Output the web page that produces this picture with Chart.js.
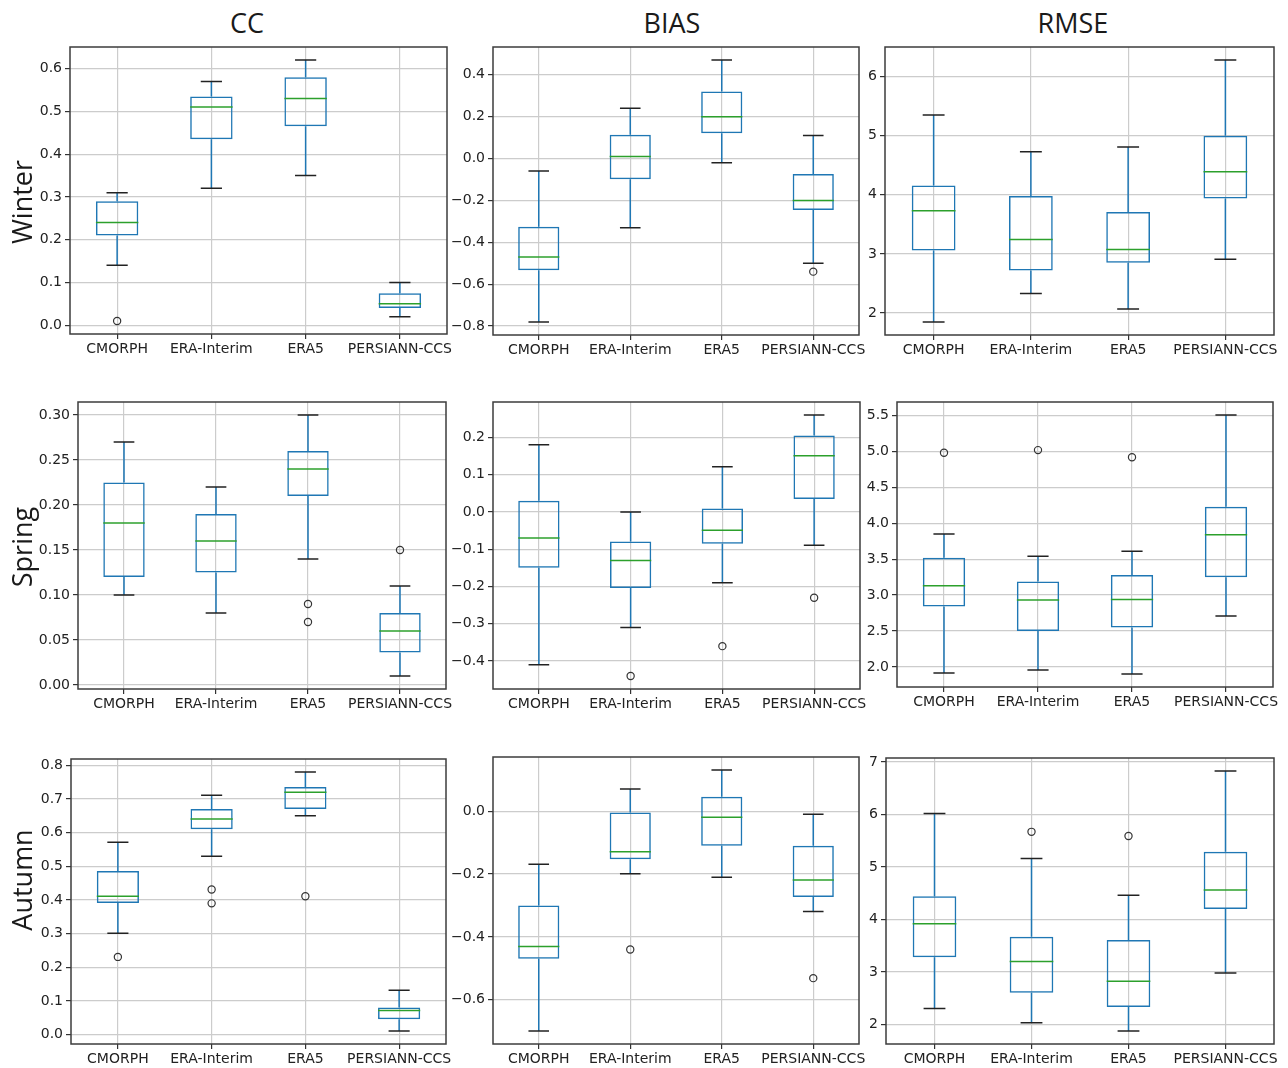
<!DOCTYPE html>
<html>
<head>
<meta charset="utf-8">
<script src="https://cdn.jsdelivr.net/npm/chart.js@4.4.1/dist/chart.umd.min.js"></script>
<style>
	body { margin: 0; background: #fff; width: 1288px; height: 1068px; position: relative; overflow: hidden; }
	canvas { position: absolute; }
	.title { position: absolute; font-family: "Open Sans", sans-serif; font-size: 27px; color: #1a1a1a; transform: translate(-50%, -50%); white-space: nowrap; }
	.rowlab { position: absolute; font-family: "Open Sans", sans-serif; font-size: 27px; color: #1a1a1a; transform: translate(-50%, -50%) rotate(-90deg); white-space: nowrap; z-index: 2; }
</style>
</head>
<body>
<div class="title" style="left:247px;top:22px">CC</div>
<div class="title" style="left:672px;top:22px">BIAS</div>
<div class="title" style="left:1073px;top:22px">RMSE</div>
<div class="rowlab" style="left:21px;top:202px">Winter</div>
<div class="rowlab" style="left:21px;top:547px">Spring</div>
<div class="rowlab" style="left:21px;top:880px">Autumn</div>
<script>
let products = ['CMORPH', 'ERA-Interim', 'ERA5', 'PERSIANN-CCS'];

// each entry: [lower whisker, Q1, median, Q3, upper whisker]
let winterCC = [[0.14, 0.21, 0.24, 0.29, 0.31], [0.32, 0.435, 0.51, 0.535, 0.57], [0.35, 0.465, 0.53, 0.58, 0.62], [0.02, 0.04, 0.05, 0.075, 0.10]];
let winterCCOut = [[0.01], [], [], []];
let winterBIAS = [[-0.78, -0.533, -0.47, -0.326, -0.06], [-0.33, -0.099, 0.01, 0.114, 0.24], [-0.02, 0.121, 0.20, 0.32, 0.47], [-0.50, -0.246, -0.20, -0.074, 0.11]];
let winterBIASOut = [[], [], [], [-0.54]];
let winterRMSE = [[1.85, 3.06, 3.73, 4.16, 5.35], [2.33, 2.72, 3.245, 3.98, 4.73], [2.07, 2.85, 3.076, 3.71, 4.81], [2.91, 3.94, 4.39, 5.0, 6.28]];
let winterRMSEOut = [[], [], [], []];

let springCC = [[0.10, 0.12, 0.18, 0.225, 0.27], [0.08, 0.125, 0.16, 0.19, 0.22], [0.14, 0.21, 0.24, 0.26, 0.30], [0.01, 0.036, 0.06, 0.08, 0.11]];
let springCCOut = [[], [], [0.09, 0.07], [0.15]];
let springBIAS = [[-0.41, -0.15, -0.07, 0.03, 0.18], [-0.31, -0.204, -0.13, -0.079, 0.0], [-0.19, -0.085, -0.049, 0.009, 0.121], [-0.089, 0.035, 0.151, 0.205, 0.26]];
let springBIASOut = [[], [-0.44], [-0.36], [-0.23]];
let springRMSE = [[1.916, 2.84, 3.13, 3.52, 3.85], [1.958, 2.50, 2.93, 3.19, 3.54], [1.90, 2.55, 2.94, 3.28, 3.61], [2.71, 3.25, 3.84, 4.23, 5.51]];
let springRMSEOut = [[4.984], [5.02], [4.92], []];

let autumnCC = [[0.301, 0.391, 0.411, 0.486, 0.571], [0.53, 0.61, 0.64, 0.67, 0.711], [0.65, 0.67, 0.72, 0.735, 0.78], [0.011, 0.046, 0.072, 0.081, 0.132]];
let autumnCCOut = [[0.231], [0.431, 0.39], [0.411], []];
let autumnBIAS = [[-0.699, -0.469, -0.43, -0.30, -0.169], [-0.199, -0.153, -0.129, -0.004, 0.071], [-0.21, -0.11, -0.019, 0.046, 0.131], [-0.319, -0.273, -0.219, -0.11, -0.0096]];
let autumnBIASOut = [[], [-0.44], [], [-0.531]];
let autumnRMSE = [[2.30, 3.28, 3.92, 4.44, 6.02], [2.03, 2.60, 3.20, 3.67, 5.16], [1.873, 2.33, 2.82, 3.61, 4.46], [2.98, 4.20, 4.56, 5.29, 6.83]];
let autumnRMSEOut = [[], [5.67], [5.59], []];

// tick step per row
let ccSteps = [0.1, 0.05, 0.1];
let biasSteps = [0.2, 0.1, 0.2];
let rmseSteps = [1, 0.5, 1];

const YW = 60, XH = 30, PT = 4, PR = 14;

// plot area boxes [left, top, right, bottom]
let panels = [
	{ stats: winterCC, out: winterCCOut, step: ccSteps[0], dec: 1, box: [70, 47, 447, 334] },
	{ stats: winterBIAS, out: winterBIASOut, step: biasSteps[0], dec: 1, box: [493, 47, 859, 335] },
	{ stats: winterRMSE, out: winterRMSEOut, step: rmseSteps[0], dec: 0, box: [885, 47, 1274, 335] },
	{ stats: springCC, out: springCCOut, step: ccSteps[1], dec: 2, box: [78, 402, 446, 689] },
	{ stats: springBIAS, out: springBIASOut, step: biasSteps[1], dec: 1, box: [493, 402, 860, 689] },
	{ stats: springRMSE, out: springRMSEOut, step: rmseSteps[1], dec: 1, box: [897, 402, 1273, 687] },
	{ stats: autumnCC, out: autumnCCOut, step: ccSteps[2], dec: 1, box: [71, 759, 446, 1044] },
	{ stats: autumnBIAS, out: autumnBIASOut, step: biasSteps[2], dec: 1, box: [493, 757, 859, 1044] },
	{ stats: autumnRMSE, out: autumnRMSEOut, step: rmseSteps[2], dec: 0, box: [886, 758, 1274, 1044] }
];

// whiskers, caps, medians and fliers drawn through the chart scales
const boxPlugin = {
	id: 'boxExtras',
	afterDatasetsDraw(chart, args, opts) {
		let ctx = chart.ctx;
		let xs = chart.scales.x, ys = chart.scales.y;
		let meta = chart.getDatasetMeta(0);
		ctx.save();
		opts.stats.forEach(function(s, i) {
			let x = xs.getPixelForValue(i);
			let half = meta.data[i].width / 2;
			let yLo = ys.getPixelForValue(s[0]), yQ1 = ys.getPixelForValue(s[1]);
			let yMed = ys.getPixelForValue(s[2]), yQ3 = ys.getPixelForValue(s[3]);
			let yHi = ys.getPixelForValue(s[4]);
			// whiskers
			ctx.strokeStyle = '#1f77b4';
			ctx.lineWidth = 1.5;
			ctx.beginPath();
			ctx.moveTo(x, yQ1); ctx.lineTo(x, yLo);
			ctx.moveTo(x, yQ3); ctx.lineTo(x, yHi);
			ctx.stroke();
			// caps
			ctx.strokeStyle = '#222';
			ctx.beginPath();
			ctx.moveTo(x - half / 2, yLo); ctx.lineTo(x + half / 2, yLo);
			ctx.moveTo(x - half / 2, yHi); ctx.lineTo(x + half / 2, yHi);
			ctx.stroke();
			// median
			ctx.strokeStyle = '#2ca02c';
			ctx.beginPath();
			ctx.moveTo(x - half, yMed); ctx.lineTo(x + half, yMed);
			ctx.stroke();
			// fliers
			ctx.strokeStyle = '#333';
			ctx.lineWidth = 1.2;
			opts.out[i].forEach(function(v) {
				ctx.beginPath();
				ctx.arc(x, ys.getPixelForValue(v), 3.6, 0, Math.PI * 2);
				ctx.stroke();
			});
		});
		ctx.restore();
	},
	afterDraw(chart) {
		let a = chart.chartArea, ctx = chart.ctx;
		ctx.save();
		ctx.strokeStyle = '#3c3c3c';
		ctx.lineWidth = 1.5;
		ctx.strokeRect(a.left, a.top, a.right - a.left, a.bottom - a.top);
		ctx.restore();
	}
};

function fmt(v, dec) {
	if (Math.abs(v) < 1e-9) v = 0;
	return v.toFixed(dec).replace('-', '\u2212');
}

// pin the axis sizes so the plot area lands on the box
function pinScale(s, key, size) {
	s[key] = size;
	s.paddingTop = 0; s.paddingBottom = 0;
	s.paddingLeft = 0; s.paddingRight = 0;
}

function drawPanel(p) {
	let all = [];
	p.stats.forEach(function(s, i) { all = all.concat(s, p.out[i]); });
	let lo = Math.min.apply(null, all), hi = Math.max.apply(null, all);
	let pad = (hi - lo) * 0.05;

	let w = p.box[2] - p.box[0], h = p.box[3] - p.box[1];
	let cv = document.createElement('canvas');
	cv.width = w + YW + PR;
	cv.height = h + PT + XH;
	cv.style.left = (p.box[0] - YW) + 'px';
	cv.style.top = (p.box[1] - PT) + 'px';
	cv.style.width = cv.width + 'px';
	cv.style.height = cv.height + 'px';
	document.body.appendChild(cv);

	let gridOpts = { color: '#cccccc', lineWidth: 1.2, tickColor: '#333', tickLength: 5, drawTicks: true };
	let tickFont = { family: 'DejaVu Sans', size: 14 };

	new Chart(cv, {
		type: 'bar',
		data: {
			labels: products,
			datasets: [{
				data: p.stats.map(function(s) { return [s[1], s[3]]; }),
				backgroundColor: 'rgba(0,0,0,0)',
				borderColor: '#1f77b4',
				borderWidth: 1.5,
				borderSkipped: false,
				barPercentage: 0.45,
				categoryPercentage: 1
			}]
		},
		options: {
			responsive: false,
			animation: false,
			layout: { padding: { top: PT, right: PR, left: 0, bottom: 0 } },
			plugins: {
				legend: { display: false },
				tooltip: { enabled: false },
				boxExtras: { stats: p.stats, out: p.out }
			},
			scales: {
				x: {
					type: 'category',
					offset: true,
					grid: Object.assign({ offset: false }, gridOpts),
					border: { display: false },
					ticks: { color: '#222', font: tickFont, padding: 2, maxRotation: 0, autoSkip: false },
					afterFit: function(s) { pinScale(s, 'height', XH); }
				},
				y: {
					type: 'linear',
					min: lo - pad,
					max: hi + pad,
					grid: gridOpts,
					border: { display: false },
					ticks: {
						color: '#222', font: tickFont, padding: 3,
						stepSize: p.step, includeBounds: false,
						callback: function(v) { return fmt(v, p.dec); }
					},
					afterFit: function(s) { pinScale(s, 'width', YW); }
				}
			}
		},
		plugins: [boxPlugin]
	});
}

panels.forEach(drawPanel);
</script>
</body>
</html>
